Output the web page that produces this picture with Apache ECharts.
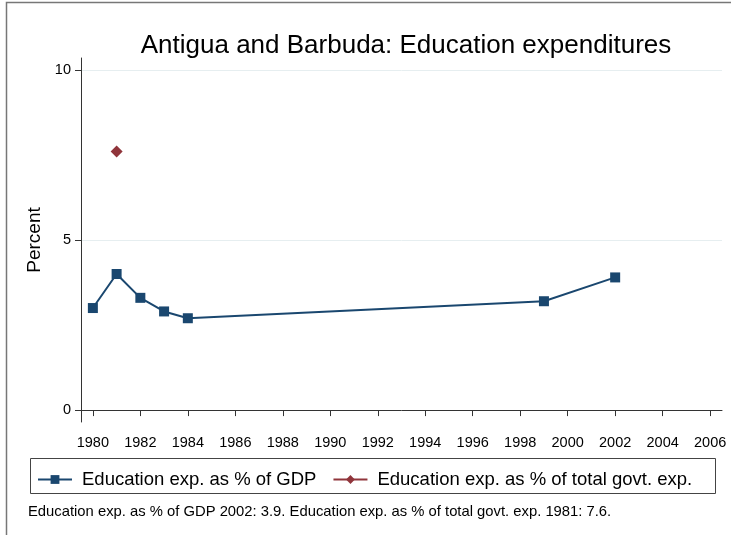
<!DOCTYPE html>
<html>
<head>
<meta charset="utf-8">
<script src="https://cdn.jsdelivr.net/npm/echarts@6/dist/echarts.min.js"></script>
<style>
  html, body { margin: 0; padding: 0; background: #fff; }
  #chart { width: 731px; height: 535px; }
</style>
</head>
<body>
<div id="chart"></div>
<script>
var years = [1980, 1981, 1982, 1983, 1984, 1999, 2002];
var gdpShare = [3.0, 4.0, 3.3, 2.9, 2.7, 3.2, 3.9];
var govtYears = [1981];
var govtShare = [7.6];
var xTicks = [1980, 1982, 1984, 1986, 1988, 1990, 1992, 1994, 1996, 1998, 2000, 2002, 2004, 2006];
var yTicks = [0, 5, 10];

var font = "'Liberation Sans', Arial, sans-serif";
var chart = echarts.init(document.getElementById('chart'));

var option = {
    backgroundColor: '#fff',
    animation: false,
    title: {
        text: 'Antigua and Barbuda: Education expenditures',
        left: 401,
        textAlign: 'center',
        top: 28,
        textStyle: { fontFamily: font, fontSize: 26, fontWeight: 'normal', color: '#000' }
    },
    grid: { left: 81, right: 9, top: 58, bottom: 113 },
    xAxis: {
        type: 'value',
        min: 1979.5,
        max: 2006.5,
        axisLine: { show: true, lineStyle: { color: '#333', width: 1 } },
        axisTick: { show: true, length: 6, customValues: xTicks, lineStyle: { color: '#333' } },
        axisLabel: {
            customValues: xTicks,
            margin: 13,
            fontFamily: font,
            fontSize: 14.5,
            color: '#000',
            formatter: function (v) { return String(v); }
        },
        splitLine: { show: false }
    },
    yAxis: {
        type: 'value',
        min: -0.35,
        max: 10.35,
        name: 'Percent',
        nameLocation: 'middle',
        nameGap: 34,
        nameTextStyle: { fontFamily: font, fontSize: 19, color: '#000' },
        axisLine: { show: true, lineStyle: { color: '#333', width: 1 } },
        axisTick: { show: true, length: 6, customValues: yTicks, lineStyle: { color: '#333' } },
        axisLabel: { customValues: yTicks, margin: 10, fontFamily: font, fontSize: 14.5, color: '#000' },
        splitLine: { show: true, lineStyle: { color: '#e6eef0', width: 1 } }
    },
    legend: {
        left: 32,
        top: 465,
        itemWidth: 34,
        itemHeight: 11,
        itemGap: 16,
        textStyle: { fontFamily: font, fontSize: 18.5, color: '#000', padding: [0, 0, 0, 5] },
        data: ['Education exp. as % of GDP', 'Education exp. as % of total govt. exp.']
    },
    series: [
        {
            name: 'Education exp. as % of GDP',
            type: 'line',
            data: years.map(function (y, i) { return [y, gdpShare[i]]; }),
            symbol: 'rect',
            symbolSize: 10,
            color: '#1a476f',
            lineStyle: { width: 2, color: '#1a476f' },
            itemStyle: { color: '#1a476f' }
        },
        {
            name: 'Education exp. as % of total govt. exp.',
            type: 'line',
            data: govtYears.map(function (y, i) { return [y, govtShare[i]]; }),
            symbol: 'diamond',
            symbolSize: 12,
            color: '#90353b',
            lineStyle: { width: 2, color: '#90353b' },
            itemStyle: { color: '#90353b' }
        }
    ],
    graphic: [
        {
            type: 'rect',
            shape: { x: 30.5, y: 458.5, width: 685, height: 35 },
            style: { fill: 'none', stroke: '#444', lineWidth: 1 },
            z: -1
        },
        {
            type: 'polyline',
            shape: { points: [[6.5, 535], [6.5, 2.5], [731, 2.5]] },
            style: { fill: 'none', stroke: '#777', lineWidth: 1.5 }
        },
        {
            type: 'text',
            left: 28,
            top: 504,
            style: {
                text: 'Education exp. as % of GDP 2002: 3.9. Education exp. as % of total govt. exp. 1981: 7.6.',
                font: '14.8px ' + font,
                fill: '#000'
            }
        }
    ]
};

chart.setOption(option);
</script>
</body>
</html>
